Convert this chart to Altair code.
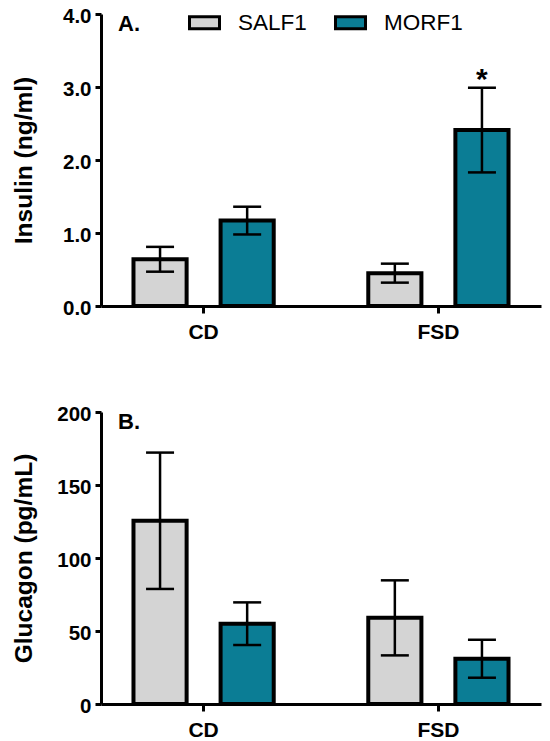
import altair as alt
import pandas as pd

FONT = "Liberation Sans"

diets = ["CD", "FSD"]
strains = ["SALF1", "MORF1"]
bar_colors = ["#d4d4d4", "#0b7d95"]

insulin_salf1 = [0.64, 0.45]
insulin_salf1_err = [0.17, 0.13]
insulin_morf1 = [1.17, 2.41]
insulin_morf1_err = [0.19, 0.58]
insulin_morf1_sig = ["", "*"]

glucagon_salf1 = [125.5, 59.0]
glucagon_salf1_err = [46.7, 25.7]
glucagon_morf1 = [55.0, 31.0]
glucagon_morf1_err = [14.6, 13.0]

insulin_ticks = [0, 1, 2, 3, 4]
glucagon_ticks = [0, 50, 100, 150, 200]


def build(s_vals, s_err, m_vals, m_err, m_sig=None):
    rows = []
    for i, d in enumerate(diets):
        rows.append(dict(diet=d, strain="SALF1", value=s_vals[i],
                         lo=s_vals[i] - s_err[i], hi=s_vals[i] + s_err[i], sig=""))
        rows.append(dict(diet=d, strain="MORF1", value=m_vals[i],
                         lo=m_vals[i] - m_err[i], hi=m_vals[i] + m_err[i],
                         sig=(m_sig[i] if m_sig else "")))
    return pd.DataFrame(rows)


def panel(df, ytitle, ymax, ticks, fmt, letter, legend):
    x = alt.X("diet:N", sort=diets, title=None,
              scale=alt.Scale(paddingInner=0.258, paddingOuter=0.066),
              axis=alt.Axis(labelAngle=0, tickSize=7, labelPadding=8,
                            labelFontSize=21, labelFont=FONT, labelFontWeight="bold",
                            labelColor="black", domainColor="black", domainWidth=3,
                            tickColor="black", tickWidth=3))
    xo = alt.XOffset("strain:N", sort=strains,
                     scale=alt.Scale(paddingInner=0.39, paddingOuter=0.195))
    yaxis = alt.Axis(values=ticks, format=fmt, grid=False, tickSize=6, labelPadding=4,
                     labelOffset=2,
                     labelFontSize=20.5, labelFont=FONT, labelFontWeight="bold",
                     labelColor="black", domainColor="black", domainWidth=3,
                     tickColor="black", tickWidth=3, titleFont=FONT,
                     titleFontSize=24.5, titleFontWeight="bold", titleColor="black",
                     minExtent=45, titlePadding=20)
    yscale = alt.Scale(domain=[0, ymax], nice=False)
    base = alt.Chart(df)
    bars = base.mark_bar(stroke="black", strokeWidth=4).encode(
        x=x, xOffset=xo,
        y=alt.Y("value:Q", scale=yscale, title=ytitle, axis=yaxis),
        fill=alt.Fill("strain:N", sort=strains,
                      scale=alt.Scale(domain=strains, range=bar_colors),
                      legend=legend),
    )
    err = base.mark_rule(color="black", strokeWidth=2.5).encode(
        x=x, xOffset=xo,
        y=alt.Y("lo:Q", scale=yscale, title=ytitle, axis=yaxis), y2="hi:Q")
    cap_hi = base.mark_tick(color="black", thickness=2.5, size=28, opacity=1).encode(
        x=x, xOffset=xo, y=alt.Y("hi:Q", scale=yscale, title=ytitle, axis=yaxis))
    cap_lo = base.mark_tick(color="black", thickness=2.5, size=28, opacity=1).encode(
        x=x, xOffset=xo, y=alt.Y("lo:Q", scale=yscale, title=ytitle, axis=yaxis))
    star = base.mark_text(font=FONT, fontSize=30, fontWeight="bold", color="black",
                          baseline="alphabetic", dy=1).encode(
        x=x, xOffset=xo, y=alt.Y("hi:Q", scale=yscale, title=ytitle, axis=yaxis),
        text="sig:N")
    lab = alt.Chart(pd.DataFrame({"t": [letter]})).mark_text(
        font=FONT, fontSize=22, fontWeight="bold", color="black",
        align="left", baseline="alphabetic").encode(
        x=alt.value(17), y=alt.value(17), text="t:N")
    return alt.layer(bars, err, cap_hi, cap_lo, star, lab).properties(width=440, height=292)


legend = alt.Legend(orient="none", legendX=87, legendY=-8, direction="horizontal",
                    title=None, symbolType="M-1,-0.4H1V0.4H-1Z", symbolSize=900,
                    symbolStrokeColor="black", symbolStrokeWidth=3, symbolOpacity=1,
                    labelFontSize=22.5, labelFont=FONT, labelColor="black",
                    labelOffset=17, columnPadding=22, padding=0)

df_ins = build(insulin_salf1, insulin_salf1_err, insulin_morf1, insulin_morf1_err,
               insulin_morf1_sig)
df_glu = build(glucagon_salf1, glucagon_salf1_err, glucagon_morf1, glucagon_morf1_err)

top = panel(df_ins, "Insulin (ng/ml)", 4, insulin_ticks, ".1f", "A.", legend)
bottom = panel(df_glu, "Glucagon (pg/mL)", 200, glucagon_ticks, "d", "B.", None)

chart = alt.vconcat(top, bottom, spacing=62).resolve_scale(fill="independent").properties(
    padding={"left": 3, "top": -2, "right": 1, "bottom": 3}
).configure_view(stroke=None)

chart.save("out.html", embed_options={"renderer": "svg", "actions": False})
